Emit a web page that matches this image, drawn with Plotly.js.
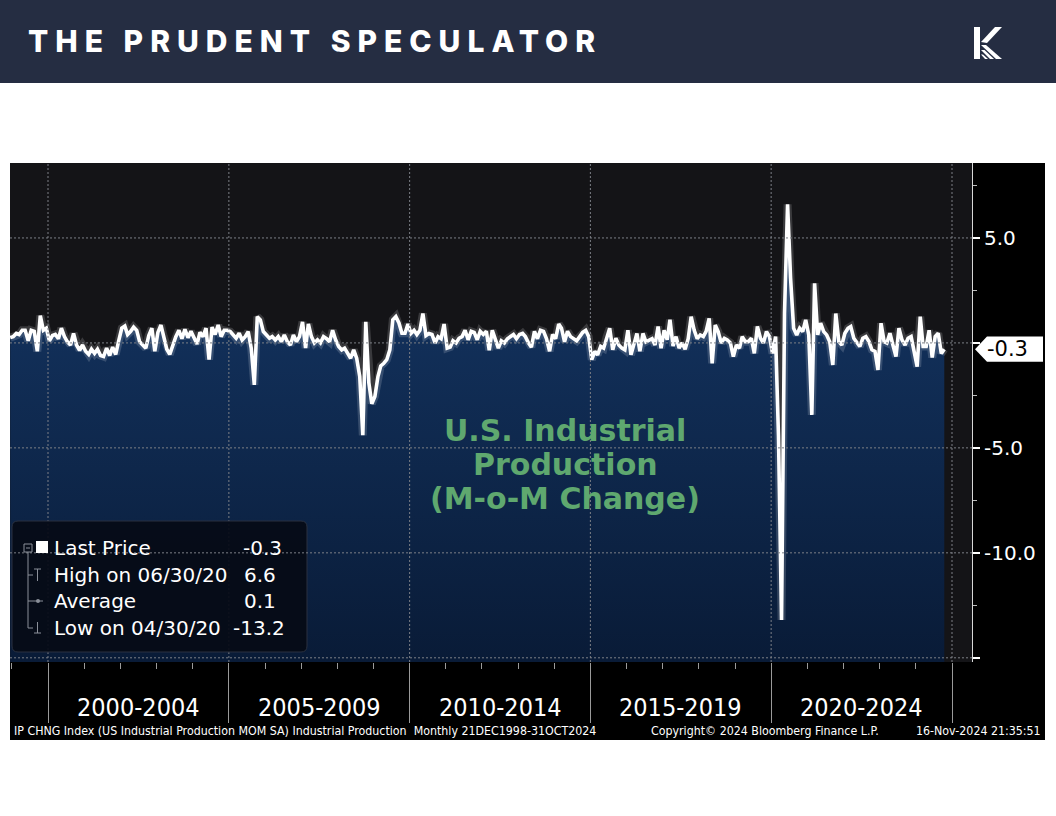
<!DOCTYPE html>
<html>
<head>
<meta charset="utf-8">
<script src="https://cdn.plot.ly/plotly-3.0.1.min.js"></script>
<style>
html,body{margin:0;padding:0;background:#ffffff;}
#chart{width:1056px;height:816px;}
</style>
</head>
<body>
<div id="chart"></div>
<script>
// ---------------- DATA (US Industrial Production, M-o-M % change) ----------------
const ipDec1998_1999 = [0.25, 0.3, 0.45, 0.4, 0.6, 0.6, 0.1, 0.6, 0.55, -0.4, 1.3, 0.6, 0.7];
const ip2000_2004 = [
  0.1, 0.35, 0.4, 0.2, 0.7, 0.3, 0.05, -0.1, 0.45, -0.1, -0.35, -0.1,
  -0.4, -0.55, -0.3, -0.5, -0.3, -0.6, -0.65, -0.25, -0.6, -0.2, -0.55, 0.1,
  0.7, 0.8, 0.4, 0.55, 0.75, 0.6, 0.05, -0.1, -0.25, 0.35, 0.7, -0.4,
  0.5, 0.85, 0.3, -0.3, -0.55, -0.1, 0.3, 0.6, 0.2, 0.65, 0.25, 0.55,
  0.2, -0.05, 0.5, 0.3, 0.7, -0.8, 0.75, 0.4, 0.85, 0.3, 0.6, 0.6
];
const ip2005_2009 = [
  0.54, 0.38, 0.22, 0.46, 0.14, 0.3, 0.54, -0.25, -2.0, 1.25, 1.1, 0.54,
  0.38, 0.22, 0.3, 0.14, 0.3, 0.06, 0.38, 0.06, -0.1, 0.38, 0.06, 0.3,
  1.0, -0.25, 0.9, 0.3, 0.0, 0.15, 0.0, 0.3, 0.2, 0.05, 0.6, 0.15,
  -0.17, -0.33, -0.25, -0.5, -0.73, -0.33, -0.73, -1.6, -4.4, 1.0, -1.9, -2.9,
  -2.55, -1.6, -1.1, -0.97, -0.8, -0.33, 1.1, 1.25, 0.95, 0.46, 0.46, 0.9
];
const ip2010_2014 = [
  0.45, 0.6, 0.4, 0.6, 1.4, 0.35, 0.45, 0.4, 0.0, 0.3, 0.2, 0.9,
  -0.25, -0.2, 0.1, 0.0, 0.22, 0.3, 0.6, 0.15, 0.55, 0.5, 0.15, 0.55,
  0.4, 0.55, -0.35, 0.6, 0.2, -0.25, 0.1, 0.0, 0.2, 0.3, 0.4, 0.2,
  0.4, 0.45, 0.3, 0.0, -0.2, 0.55, 0.2, 0.6, 0.55, 0.2, -0.4, 0.4,
  0.2, 0.9, 0.7, 0.05, 0.55, 0.3, 0.2, 0.1, 0.3, 0.5, 0.6, 0.3
];
const ip2015_2019 = [
  -0.8, -0.4, -0.57, -0.17, -0.25, 0.3, 0.7, -0.33, 0.22, -0.1, -0.25, -0.33,
  0.6, -0.57, -0.1, 0.45, -0.4, 0.45, 0.05, 0.15, 0.2, -0.1, 0.78, -0.25,
  0.6, 0.15, 1.1, -0.15, 0.3, -0.25, 0.0, -0.3, 0.2, 1.25, 0.6, 0.2,
  0.38, 0.3, 0.55, 1.17, -0.97, 0.85, 0.54, 0.0, 0.22, 0.14, 0.0, -0.65,
  -0.1, -0.25, 0.3, 0.06, 0.06, 0.22, -0.5, 0.78, 0.22, 0.0, 0.54, 0.3
];
const ip2020_2024 = [
  -0.5, 0.3, -4.4, -13.2, 1.4, 6.6, 3.1, 0.7, 0.38, 0.7, 0.54, 1.1,
  0.38, -3.43, 2.84, 0.38, 0.94, 0.54, 0.38, 0.06, -1.05, 1.4, 0.06, -0.1,
  0.46, 0.7, 0.78, 0.22, 0.06, -0.17, 0.22, 0.3, 0.06, -0.33, -0.41, -1.29,
  0.94, 0.06, 0.0, 0.46, -0.1, -0.65, 0.7, 0.14, -0.1, 0.22, 0.3, -0.4,
  -1.13, 1.25, -0.17, -0.17, 0.6, -0.7, 0.3, 0.46, -0.5, -0.3
];
const seriesStartYear = 1998, seriesStartMonth = 12;

const blockLabels  = ['2000-2004', '2005-2009', '2010-2014', '2015-2019', '2020-2024'];
const blockCenters = ['2002-07-02', '2007-07-02', '2012-07-02', '2017-07-02', '2022-07-02'];
const blockEdges   = ['2000-01-01', '2005-01-01', '2010-01-01', '2015-01-01', '2020-01-01', '2025-01-01'];
const yearTicks = ['1999','2000','2001','2002','2003','2004','2005','2006','2007','2008','2009','2010',
  '2011','2012','2013','2014','2015','2016','2017','2018','2019','2020','2021','2022','2023','2024','2025'];
const xRange = ['1998-12-13', '2025-07-22'];

const yTickVals  = [5, 0, -5, -10, -15];
const yTickText  = ['5.0', '', '-5.0', '-10.0', ''];
const yMinorVals = [7.5, 2.5, -2.5, -7.5, -12.5];
const yRange = [-15.2, 8.57];

const lastValue = -0.3;
const lastLabel = '-0.3';
const statLabels = ['Last Price', 'High on 06/30/20', 'Average', 'Low on 04/30/20'];
const statValues = ['-0.3', '6.6', '0.1', '-13.2'];
const titleLines = ['U.S. Industrial', 'Production', '(M-o-M Change)'];
const brandText = 'THE PRUDENT SPECULATOR';
const footerLeft = 'IP CHNG Index (US Industrial Production MOM SA) Industrial Production&nbsp;&nbsp;Monthly 21DEC1998-31OCT2024';
const footerMid = 'Copyright\u00A9 2024 Bloomberg Finance L.P.';
const footerRight = '16-Nov-2024 21:35:51';

// ---------------- BUILD ----------------
const ipChange = [].concat(ipDec1998_1999, ip2000_2004, ip2005_2009, ip2010_2014, ip2015_2019, ip2020_2024);
const dates = ipChange.map((_, i) => {
  const k = (seriesStartMonth - 1) + i;
  const y = seriesStartYear + Math.floor(k / 12);
  const m = (k % 12) + 1;
  return y + '-' + String(m).padStart(2, '0') + '-15';
});
const baseline = dates.map(() => yRange[0]);

// pixel -> paper helpers (plot area: x 10..972, y 163..662)
const PL = 10, PR = 972, PT = 163, PB = 662;
const xp = X => (X - PL) / (PR - PL);
const yp = Y => (PB - Y) / (PB - PT);

const NARROW = '"Liberation Sans Narrow", "DejaVu Sans Condensed", "Arial Narrow", sans-serif';
const TAHOMA = '"DejaVu Sans", Verdana, sans-serif';

const traces = [
  {x: dates, y: baseline, mode: 'lines', line: {width: 0, color: 'rgba(0,0,0,0)'}, hoverinfo: 'skip', showlegend: false},
  {x: dates, y: ipChange, mode: 'lines', line: {width: 0, color: 'rgba(0,0,0,0)'}, fill: 'tonexty',
   fillcolor: '#0f2747',
   fillgradient: {type: 'vertical', start: yRange[0], stop: 1, colorscale: [[0, '#091b37'], [1, '#12305a']]},
   hoverinfo: 'skip', showlegend: false},
  {x: dates, y: ipChange, mode: 'lines', line: {width: 8, color: 'rgba(255,255,255,0.16)'}, hoverinfo: 'skip', showlegend: false},
  {x: dates, y: ipChange, mode: 'lines', line: {width: 3.6, color: '#ffffff'}, showlegend: false}
];

function rrect(X0, Y0, X1, Y1, r) {
  const P = (X, Y) => xp(X) + ',' + yp(Y);
  return 'M ' + P(X0 + r, Y0) + ' L ' + P(X1 - r, Y0) + ' Q ' + P(X1, Y0) + ' ' + P(X1, Y0 + r) +
    ' L ' + P(X1, Y1 - r) + ' Q ' + P(X1, Y1) + ' ' + P(X1 - r, Y1) +
    ' L ' + P(X0 + r, Y1) + ' Q ' + P(X0, Y1) + ' ' + P(X0, Y1 - r) +
    ' L ' + P(X0, Y0 + r) + ' Q ' + P(X0, Y0) + ' ' + P(X0 + r, Y0) + ' Z';
}
function poly(pts) {
  return 'M ' + pts.map(p => xp(p[0]) + ',' + yp(p[1])).join(' L ') + ' Z';
}
const prect = (X0, Y0, X1, Y1, fill, layer, line) => ({type: 'rect', xref: 'paper', yref: 'paper',
  x0: xp(X0), x1: xp(X1), y0: yp(Y1), y1: yp(Y0), fillcolor: fill, line: line || {width: 0}, layer: layer || 'below'});
const pline = (X0, Y0, X1, Y1, color, w) => ({type: 'line', xref: 'paper', yref: 'paper',
  x0: xp(X0), x1: xp(X1), y0: yp(Y0), y1: yp(Y1), line: {color: color, width: w || 1}, layer: 'above'});

const GRID = {color: '#7c7f86', width: 1, dash: '2px,2px'};
const shapes = [];
shapes.push(prect(0, 0, 1056, 83, '#252d42'));
shapes.push(prect(10, 163, 1045, 740, '#000000'));
shapes.push(prect(10, 163, 972, 662, '#141417'));
// vertical grid
blockEdges.forEach(d => shapes.push({type: 'line', xref: 'x', yref: 'paper', x0: d, x1: d, y0: 0, y1: 1, line: GRID, layer: 'above'}));
// legend box
shapes.push({type: 'path', xref: 'paper', yref: 'paper', path: rrect(12, 521, 307, 652, 6),
  fillcolor: 'rgba(6,11,22,0.93)', line: {color: '#2a3140', width: 1}, layer: 'above'});
// horizontal grid
yTickVals.forEach(v => shapes.push({type: 'line', xref: 'paper', yref: 'y', x0: 0, x1: 1, y0: v, y1: v, line: GRID, layer: 'above'}));
// legend glyphs
shapes.push({type: 'rect', xref: 'paper', yref: 'paper', x0: xp(24), x1: xp(32), y0: yp(552), y1: yp(544),
  fillcolor: 'rgba(0,0,0,0)', line: {color: '#8a8f99', width: 1}, layer: 'above'});
shapes.push(pline(26, 548, 30, 548, '#8a8f99'));
shapes.push(pline(28, 552, 28, 628, '#8a8f99'));
shapes.push(pline(28, 575, 33, 575, '#8a8f99'));
shapes.push(pline(28, 601, 33, 601, '#8a8f99'));
shapes.push(pline(28, 628, 33, 628, '#8a8f99'));
shapes.push(pline(34, 569, 41, 569, '#8a8f99'));
shapes.push(pline(37.5, 569, 37.5, 581, '#8a8f99'));
shapes.push(pline(33, 601, 43, 601, '#8a8f99'));
shapes.push({type: 'circle', xref: 'paper', yref: 'paper', x0: xp(36), x1: xp(40), y0: yp(603), y1: yp(599),
  fillcolor: '#8a8f99', line: {width: 0}, layer: 'above'});
shapes.push(pline(37.5, 622, 37.5, 633, '#8a8f99'));
shapes.push(pline(34, 633, 41, 633, '#8a8f99'));
shapes.push(prect(36, 541, 48, 553, '#ffffff', 'above'));
// last value tag
shapes.push({type: 'path', xref: 'paper', yref: 'y',
  path: 'M ' + xp(975) + ',' + lastValue + ' L ' + xp(987) + ',' + (lastValue + 0.6) + ' L ' + xp(1043) + ',' + (lastValue + 0.6) +
        ' L ' + xp(1043) + ',' + (lastValue - 0.6) + ' L ' + xp(987) + ',' + (lastValue - 0.6) + ' Z',
  fillcolor: '#ffffff', line: {width: 0}, layer: 'above'});
// logo (stylised K)
const logoParts = [
  [[974, 27], [980, 27], [980, 59], [974, 59]],
  [[981, 42], [995, 27], [1002, 27], [987, 43]],
  [[981, 45], [986, 45], [1002, 59], [996, 59]],
  [[981, 50], [984.5, 50], [994, 59], [990, 59]],
  [[981, 54.5], [983, 54.5], [988, 59], [985, 59]]
];
logoParts.forEach(p => shapes.push({type: 'path', xref: 'paper', yref: 'paper', path: poly(p), fillcolor: '#ffffff', line: {width: 0}, layer: 'above'}));

const ann = [];
const pAnn = (X, Y, text, font, xanchor, extra) => Object.assign({xref: 'paper', yref: 'paper', x: xp(X), y: yp(Y), text: text,
  showarrow: false, font: font, xanchor: xanchor || 'left', yanchor: 'middle'}, extra || {});
ann.push(pAnn(26, 41, '<span style="letter-spacing:7px">' + brandText + '</span>', {family: 'Inter, "Open Sans", sans-serif', size: 30, color: '#ffffff', weight: 800}));
titleLines.forEach((t, i) => ann.push(pAnn(565, 430 + i * 34, t, {family: TAHOMA, size: 30, color: '#5fa86f', weight: 700}, 'center')));
statLabels.forEach((t, i) => ann.push(pAnn(52, 548 + i * 26.6, t, {family: TAHOMA, size: 20, color: '#ffffff'})));
const statX = [241, 242, 242, 231];
statValues.forEach((t, i) => ann.push(pAnn(statX[i], 548 + i * 26.6, t, {family: TAHOMA, size: 20, color: '#ffffff'})));
blockLabels.forEach((t, i) => ann.push({xref: 'x', yref: 'paper', x: blockCenters[i], y: yp(707), text: t, showarrow: false,
  font: {family: NARROW, size: 25, color: '#ffffff'}, xanchor: 'center', yanchor: 'middle'}));
ann.push(pAnn(12, 731, footerLeft, {family: NARROW, size: 12.3, color: '#ffffff'}));
ann.push(pAnn(649, 731, footerMid, {family: NARROW, size: 12.3, color: '#ffffff'}));
ann.push(pAnn(1043, 731, footerRight, {family: NARROW, size: 12.3, color: '#ffffff'}, 'right'));
ann.push({xref: 'paper', yref: 'y', x: xp(985), y: lastValue, text: lastLabel, showarrow: false,
  font: {family: TAHOMA, size: 21, color: '#000000'}, xanchor: 'left', yanchor: 'middle'});

const layout = {
  width: 1056, height: 816,
  margin: {l: PL, r: 1056 - PR, t: PT, b: 816 - PB, pad: 0},
  paper_bgcolor: '#ffffff', plot_bgcolor: 'rgba(0,0,0,0)',
  showlegend: false,
  xaxis: {
    type: 'date', range: xRange, showgrid: false, zeroline: false, showline: false,
    tickmode: 'array', tickvals: blockEdges, ticks: 'outside', ticklen: 60, tickwidth: 1, tickcolor: '#9a9a9a',
    showticklabels: false,
    minor: {tickmode: 'array', tickvals: yearTicks.map(y => y + '-01-01'), ticks: 'outside', ticklen: 6, tickwidth: 1, tickcolor: '#9a9a9a', showgrid: false}
  },
  yaxis: {
    side: 'right', range: yRange, showgrid: false, zeroline: false,
    tickmode: 'array', tickvals: yTickVals, ticktext: yTickText,
    ticks: 'outside', ticklen: 7, tickwidth: 2, tickcolor: '#ffffff',
    showline: true, linecolor: '#d8d8d8', linewidth: 1,
    tickfont: {family: TAHOMA, size: 20, color: '#ffffff'},
    minor: {tickmode: 'array', tickvals: yMinorVals, ticks: 'outside', ticklen: 4, tickwidth: 1, tickcolor: '#bbbbbb', showgrid: false}
  },
  shapes: shapes,
  annotations: ann
};

Plotly.newPlot('chart', traces, layout, {staticPlot: true, displayModeBar: false});
</script>
</body>
</html>
